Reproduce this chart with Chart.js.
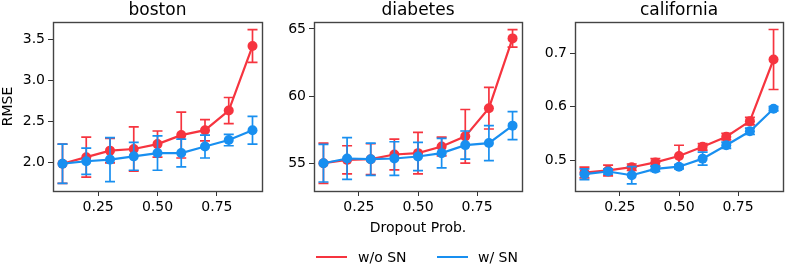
<!doctype html>
<html>
<head>
<meta charset="UTF-8">
<title>RMSE vs dropout</title>
<script src="https://cdn.jsdelivr.net/npm/chart.js@4/dist/chart.umd.min.js"></script>
<style>
  body { margin: 0; background: #fff; }
  #wrap { position: relative; width: 789px; height: 271px; font-family: 'DejaVu Sans', sans-serif; }
  canvas { position: absolute; top: 0; }
  .key { position: absolute; top: 256px; height: 2px; width: 31px; }
  .lbl { position: absolute; top: 248px; font-size: 14px; line-height: 18px; color: #000; }
</style>
</head>
<body>
<div id="wrap">
  <canvas id="c0" width="264" height="271" style="left:0px"></canvas>
  <canvas id="c1" width="264" height="271" style="left:260px"></canvas>
  <canvas id="c2" width="264" height="271" style="left:521px"></canvas>
  <div class="key" style="left:316px;background:#f6343f"></div>
  <div class="lbl" style="left:358px">w/o SN</div>
  <div class="key" style="left:437px;background:#188ff0"></div>
  <div class="lbl" style="left:478px">w/ SN</div>
</div>
<script>
var dropout = [0.1, 0.2, 0.3, 0.4, 0.5, 0.6, 0.7, 0.8, 0.9];
var xTicks = [0.25, 0.5, 0.75];

var bostonNoSN    = [1.98, 2.06, 2.14, 2.16, 2.22, 2.33, 2.39, 2.63, 3.42];
var bostonNoSNErr = [0.24, 0.245, 0.15, 0.27, 0.16, 0.28, 0.13, 0.16, 0.20];
var bostonSN      = [1.98, 2.01, 2.03, 2.07, 2.11, 2.11, 2.19, 2.27, 2.39];
var bostonSNErr   = [0.24, 0.16, 0.27, 0.17, 0.21, 0.17, 0.14, 0.07, 0.17];
var bostonTicks   = [2.0, 2.5, 3.0, 3.5];

var diabetesNoSN    = [55.0, 55.25, 55.3, 55.65, 55.75, 56.25, 57.0, 59.1, 64.3];
var diabetesNoSNErr = [1.5, 1.05, 1.15, 1.15, 1.55, 0.7, 2.0, 1.55, 0.65];
var diabetesSN      = [55.0, 55.35, 55.3, 55.35, 55.5, 55.75, 56.35, 56.5, 57.8];
var diabetesSNErr   = [1.4, 1.55, 1.2, 1.25, 1.05, 1.1, 1.05, 1.3, 1.05];
var diabetesTicks   = [55, 60, 65];

var californiaNoSN    = [0.477, 0.481, 0.487, 0.496, 0.508, 0.525, 0.544, 0.573, 0.688];
var californiaNoSNErr = [0.01, 0.01, 0.006, 0.007, 0.02, 0.006, 0.006, 0.007, 0.056];
var californiaSN      = [0.474, 0.479, 0.472, 0.484, 0.488, 0.503, 0.528, 0.554, 0.596];
var californiaSNErr   = [0.01, 0.005, 0.016, 0.005, 0.004, 0.012, 0.006, 0.006, 0.004];
var californiaTicks   = [0.5, 0.6, 0.7];

var RED = '#f6343f', BLUE = '#188ff0';
var FONT = 'DejaVu Sans';

// error bars under each series, drawn with the chart's own scales
var errorBars = {
  id: 'errorBars',
  beforeDatasetDraw: function(chart, args) {
    var ds = chart.data.datasets[args.index];
    if (!ds.err) return;
    var xs = chart.scales.x, ys = chart.scales.y, ctx = chart.ctx;
    ctx.save();
    ctx.strokeStyle = ds.borderColor;
    ctx.lineWidth = 1.7;
    ds.data.forEach(function(p, i) {
      var x = xs.getPixelForValue(p.x);
      var t = ys.getPixelForValue(p.y + ds.err[i]);
      var b = ys.getPixelForValue(p.y - ds.err[i]);
      ctx.beginPath();
      ctx.moveTo(x, t); ctx.lineTo(x, b);
      ctx.moveTo(x - 5, t); ctx.lineTo(x + 5, t);
      ctx.moveTo(x - 5, b); ctx.lineTo(x + 5, b);
      ctx.stroke();
    });
    ctx.restore();
  }
};

var frame = {
  id: 'frame',
  afterDraw: function(chart) {
    var a = chart.chartArea, ctx = chart.ctx;
    ctx.save();
    ctx.strokeStyle = '#444';
    ctx.lineWidth = 1.4;
    ctx.strokeRect(Math.round(a.left) + 0.5, Math.round(a.top) + 0.5,
                   Math.round(a.right - a.left), Math.round(a.bottom - a.top));
    ctx.restore();
  }
};

function pts(ys) {
  return ys.map(function(v, i) { return {x: dropout[i], y: v}; });
}

function series(label, ys, err, color, order) {
  return {
    label: label, data: pts(ys), err: err, order: order,
    borderColor: color, backgroundColor: color,
    borderWidth: 2.2, pointRadius: 5, pointBorderWidth: 0,
    pointBackgroundColor: color, tension: 0
  };
}

function makeChart(id, title, noSN, noSNErr, sn, snErr, yTicks, ymin, ymax, digits, opts) {
  var ctx = document.getElementById(id).getContext('2d');
  return new Chart(ctx, {
    type: 'line',
    data: {
      datasets: [
        series('w/o SN', noSN, noSNErr, RED, 2),
        series('w/ SN', sn, snErr, BLUE, 1)
      ]
    },
    options: {
      responsive: false,
      animation: false,
      events: [],
      layout: { autoPadding: false, padding: { left: 0, right: 2, top: 0, bottom: 34.6 } },
      plugins: {
        legend: { display: false },
        tooltip: { enabled: false },
        title: {
          display: true, text: title, fullSize: false, color: '#000',
          font: { family: FONT, size: 17, weight: 'normal', lineHeight: 1.2 },
          padding: { top: 0, bottom: 1.6 }
        }
      },
      scales: {
        x: {
          type: 'linear', min: 0.06, max: 0.94,
          afterBuildTicks: function(s) { s.ticks = xTicks.map(function(v) { return {value: v}; }); },
          afterFit: function(s) { s.height = 45.4; },
          grid: { drawOnChartArea: false, drawTicks: true, tickLength: 5, color: '#333' },
          border: { display: false },
          ticks: {
            color: '#000', padding: 3, maxRotation: 0,
            font: { family: FONT, size: 14 },
            callback: function(v) { return Number(v).toFixed(2); }
          },
          title: {
            display: !!opts.xTitle, text: opts.xTitle || '', color: '#000',
            font: { family: FONT, size: 14 }, padding: 0
          }
        },
        y: {
          type: 'linear', min: ymin, max: ymax,
          afterBuildTicks: function(s) { s.ticks = yTicks.map(function(v) { return {value: v}; }); },
          afterFit: function(s) { s.width = opts.yWidth; },
          grid: { drawOnChartArea: false, drawTicks: true, tickLength: 5, color: '#333' },
          border: { display: false },
          ticks: {
            color: '#000', padding: 3,
            font: { family: FONT, size: 14 },
            callback: function(v) { return Number(v).toFixed(digits); }
          },
          title: {
            display: !!opts.yTitle, text: opts.yTitle || '', color: '#000',
            font: { family: FONT, size: 14 }, padding: 0
          }
        }
      }
    },
    plugins: [errorBars, frame]
  });
}

makeChart('c0', 'boston', bostonNoSN, bostonNoSNErr, bostonSN, bostonSNErr,
          bostonTicks, 1.646, 3.714, 1, { yWidth: 53, yTitle: 'RMSE' });
makeChart('c1', 'diabetes', diabetesNoSN, diabetesNoSNErr, diabetesSN, diabetesSNErr,
          diabetesTicks, 52.93, 65.52, 0, { yWidth: 54, xTitle: 'Dropout Prob.' });
makeChart('c2', 'california', californiaNoSN, californiaNoSNErr, californiaSN, californiaSNErr,
          californiaTicks, 0.4426, 0.758, 1, { yWidth: 54 });
</script>
</body>
</html>
